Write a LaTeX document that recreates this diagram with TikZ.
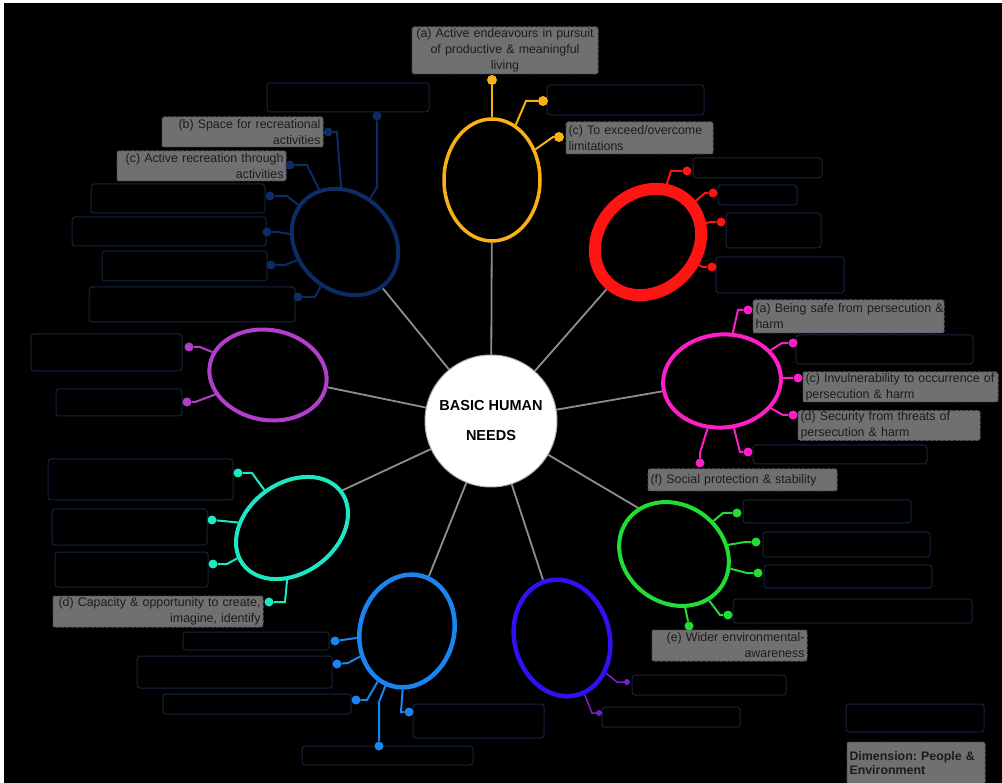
\documentclass[tikz,border=0pt]{standalone}
\usepackage{fontspec}
\setmainfont{Liberation Sans}
\usetikzlibrary{shapes.geometric,backgrounds}

\definecolor{cYel}{HTML}{F9B115}
\definecolor{cRed}{HTML}{FF1414}
\definecolor{cPink}{HTML}{FF1EC8}
\definecolor{cGreen}{HTML}{22DD33}
\definecolor{cIndigo}{HTML}{2E12F2}
\definecolor{cViolet}{HTML}{7A1FD0}
\definecolor{cSky}{HTML}{1A84F0}
\definecolor{cCyan}{HTML}{1EE8C4}
\definecolor{cPurple}{HTML}{B040CC}
\definecolor{cNavy}{HTML}{0C2C66}
\definecolor{cSlot}{HTML}{13263D}
\definecolor{cSpoke}{HTML}{8E8E8E}
\definecolor{cLblFill}{HTML}{707070}
\definecolor{cLblEdge}{HTML}{555555}
\definecolor{cLblText}{HTML}{1C1C1C}

\begin{document}
\begin{tikzpicture}[x=1pt,y=-1pt,
  hub/.style={circle, fill=white, draw=gray!60, line width=1pt, minimum size=132pt,
    inner sep=0pt, align=center, font=\fontsize{14.5}{30}\selectfont\bfseries},
  ring/.style={ellipse, draw, inner sep=0pt, line width=4pt},
  spoke/.style={draw=cSpoke, line width=1.8pt},
  knob/.style={circle, fill=#1, inner sep=0pt, minimum size=9pt},
  smallknob/.style={circle, fill=#1, inner sep=0pt, minimum size=6pt},
  branch/.style={draw=#1, line width=2pt},
  slot/.style={draw=cSlot, line width=1pt, rounded corners=3pt, inner sep=0pt},
  lbl/.style={fill=cLblFill, draw=cLblEdge, dash pattern=on 3pt off 2pt, line width=1pt,
    rounded corners=2pt, inner xsep=2.5pt, inner ysep=1pt, text=cLblText,
    font=\fontsize{12.4}{16}\selectfont\frenchspacing},
]
\useasboundingbox (0,0) rectangle (1002,783);
\begin{scope}[on background layer]
  \fill[white] (0,0) rectangle (1002,783);
  \fill[black] (3.5,3.5) rectangle (1002,783);
\end{scope}

% hub
\node[hub] (C) at (491,421) {BASIC HUMAN\\NEEDS};

% rings
\node[ring, draw=cYel, line width=3.5pt, minimum width=96pt, minimum height=122pt] (Y) at (492,180) {};
\node[ring, draw=cRed, line width=12pt, minimum width=114pt, minimum height=98pt, rotate=45] (R) at (648,242) {};
\node[ring, draw=cPink, minimum width=118pt, minimum height=93pt, rotate=5] (P) at (722,381) {};
\node[ring, draw=cGreen, minimum width=115pt, minimum height=98pt, rotate=-35] (G) at (674,554) {};
\node[ring, draw=cIndigo, line width=4.5pt, minimum width=95pt, minimum height=118pt, rotate=15] (I) at (562,638) {};
\node[ring, draw=cSky, line width=4.5pt, minimum width=94pt, minimum height=114pt, rotate=-15] (B) at (407,631) {};
\node[ring, draw=cCyan, minimum width=122pt, minimum height=90pt, rotate=36] (Cy) at (292,528) {};
\node[ring, draw=cPurple, minimum width=118pt, minimum height=90pt, rotate=-10] (U) at (268,375) {};
\node[ring, draw=cNavy, minimum width=116pt, minimum height=96pt, rotate=-45] (N) at (345,242) {};

\coordinate (gIn) at (640,509);
\coordinate (cIn) at (341,491);

% navy group
\node[slot, minimum width=162pt, minimum height=29pt] (sNa) at (348,97.5) {};
\node[lbl, text width=156pt, minimum height=30pt, align=right] (tNb) at (242.5,132) {(b) Space for recreational\\activities};
\node[lbl, text width=164pt, minimum height=30pt, align=right] (tNc) at (201.5,166) {(c) Active recreation through\\activities};
\node[slot, minimum width=174pt, minimum height=29pt] (sNd) at (178,198.5) {};
\node[slot, minimum width=194pt, minimum height=29pt] (sNe) at (169,231.5) {};
\node[slot, minimum width=165pt, minimum height=30pt] (sNf) at (184.5,266) {};
\node[slot, minimum width=206pt, minimum height=35pt] (sNg) at (192,304.5) {};
\node[knob=cNavy] (kNa) at (377,116) {};
\node[knob=cNavy] (kNb) at (328,132) {};
\node[knob=cNavy] (kNc) at (290,165) {};
\node[knob=cNavy] (kNd) at (270,196) {};
\node[knob=cNavy] (kNe) at (267,232) {};
\node[knob=cNavy] (kNf) at (271,265) {};
\node[knob=cNavy] (kNg) at (298,297) {};

% yellow group
\node[lbl, text width=181pt, minimum height=47pt, align=center] (tYa) at (505,50.5) {(a) Active endeavours in pursuit\\of productive \& meaningful\\living};
\node[slot, minimum width=157pt, minimum height=30pt] (sYb) at (625.5,100) {};
\node[lbl, text width=142pt, minimum height=32pt, align=left] (tYc) at (639.5,138) {(c) To exceed/overcome\\limitations};
\node[knob=cYel, minimum size=10pt] (kYa) at (492,80) {};
\node[knob=cYel, minimum size=10pt] (kYb) at (543,101) {};
\node[knob=cYel, minimum size=10pt] (kYc) at (559,137) {};

% red group
\node[slot, minimum width=129pt, minimum height=20pt] (sR1) at (757.5,168) {};
\node[slot, minimum width=79pt, minimum height=20pt] (sR2) at (757.5,195) {};
\node[slot, minimum width=95pt, minimum height=35pt] (sR3) at (773.5,230.5) {};
\node[slot, minimum width=128pt, minimum height=36pt] (sR4) at (780,275) {};
\node[knob=cRed] (kR1) at (687,171) {};
\node[knob=cRed] (kR2) at (713,193) {};
\node[knob=cRed] (kR3) at (721,222) {};
\node[knob=cRed] (kR4) at (712,267) {};

% pink group
\node[lbl, text width=186pt, minimum height=33pt, align=left] (tPa) at (848.5,316.5) {\mbox{(a) Being safe from persecution \&}\\harm};
\node[slot, minimum width=177pt, minimum height=29pt] (sPb) at (884.5,349.5) {};
\node[lbl, text width=190pt, minimum height=30pt, align=left] (tPc) at (900.5,387) {\mbox{(c) Invulnerability to occurrence of}\\persecution \& harm};
\node[lbl, text width=177pt, minimum height=27pt, align=left] (tPd) at (889,425.5) {(d) Security from threats of\\persecution \& harm};
\node[slot, minimum width=174pt, minimum height=19pt] (sPe) at (840,454.5) {};
\node[lbl, text width=184pt, minimum height=22pt, align=left] (tPf) at (742.5,480) {(f) Social protection \& stability};
\node[knob=cPink] (kPa) at (748,310) {};
\node[knob=cPink] (kPb) at (793,343) {};
\node[knob=cPink] (kPc) at (798,378) {};
\node[knob=cPink] (kPd) at (793,415) {};
\node[knob=cPink] (kPe) at (748,452) {};
\node[knob=cPink] (kPf) at (700,463) {};

% green group
\node[slot, minimum width=168pt, minimum height=23pt] (sGa) at (827,511.5) {};
\node[slot, minimum width=167pt, minimum height=25pt] (sGb) at (846.5,544.5) {};
\node[slot, minimum width=168pt, minimum height=23pt] (sGc) at (848,576.5) {};
\node[slot, minimum width=239pt, minimum height=24pt] (sGd) at (852.5,611) {};
\node[lbl, text width=150pt, minimum height=31pt, align=right] (tGe) at (729.5,645.5) {(e) Wider environmental-\\awareness};
\node[knob=cGreen] (kGa) at (737,513) {};
\node[knob=cGreen] (kGb) at (756,542) {};
\node[knob=cGreen] (kGc) at (758,573) {};
\node[knob=cGreen] (kGd) at (728,615) {};
\node[knob=cGreen] (kGe) at (689,626) {};

% indigo group
\node[slot, minimum width=154pt, minimum height=20pt] (sIa) at (709,685) {};
\node[slot, minimum width=138pt, minimum height=20pt] (sIb) at (671,717) {};
\node[smallknob=cViolet] (kIa) at (627,682) {};
\node[smallknob=cViolet] (kIb) at (599,713) {};

% light blue group
\node[slot, minimum width=146pt, minimum height=18pt] (sBa) at (256,641) {};
\node[slot, minimum width=195pt, minimum height=32pt] (sBb) at (234.5,672) {};
\node[slot, minimum width=188pt, minimum height=20pt] (sBc) at (257,704) {};
\node[slot, minimum width=171pt, minimum height=19pt] (sBd) at (387.5,755.5) {};
\node[slot, minimum width=131pt, minimum height=34pt] (sBe) at (478.5,721) {};
\node[knob=cSky] (kBa) at (335,641) {};
\node[knob=cSky] (kBb) at (337,664) {};
\node[knob=cSky] (kBc) at (356,700) {};
\node[knob=cSky] (kBd) at (379,746) {};
\node[knob=cSky] (kBe) at (409,712) {};

% cyan group
\node[slot, minimum width=185pt, minimum height=41pt] (sCa) at (140.5,479.5) {};
\node[slot, minimum width=155pt, minimum height=36pt] (sCb) at (129.5,527) {};
\node[slot, minimum width=153pt, minimum height=35pt] (sCc) at (131.5,569.5) {};
\node[lbl, text width=205pt, minimum height=31pt, align=right] (tCd) at (158,611.5) {(d) Capacity \& opportunity to create,\\imagine, identify};
\node[knob=cCyan] (kCa) at (238,473) {};
\node[knob=cCyan] (kCb) at (212,520) {};
\node[knob=cCyan] (kCc) at (213,564) {};
\node[knob=cCyan] (kCd) at (269,602) {};

% purple group
\node[slot, minimum width=151pt, minimum height=37pt] (sUa) at (106.5,352.5) {};
\node[slot, minimum width=126pt, minimum height=27pt] (sUb) at (119,402.5) {};
\node[knob=cPurple] (kUa) at (189,347) {};
\node[knob=cPurple] (kUb) at (187,402) {};

% dimension tag
\node[slot, minimum width=138pt, minimum height=28pt] (sDim) at (915,718) {};
\node[lbl, text width=133pt, minimum height=42pt, align=left,
  font=\fontsize{12.4}{14.5}\selectfont\bfseries\frenchspacing] (tDim) at (916,763) {Dimension: People \&\\Environment};

% connectors
\begin{scope}[on background layer]
  \draw[spoke] (C) -- (Y);
  \draw[spoke] (C) -- (R);
  \draw[spoke] (C) -- (P);
  \draw[spoke] (C) -- (gIn);
  \draw[spoke] (C) -- (I);
  \draw[spoke] (C) -- (B);
  \draw[spoke] (C) -- (cIn);
  \draw[spoke] (C) -- (U);
  \draw[spoke] (C) -- (N);

  \draw[branch=cNavy] (kNa) -- (377,187) -- (N);
  \draw[branch=cNavy] (kNb) -- (337,132) -- (N);
  \draw[branch=cNavy] (kNc) -- (307,165) -- (N);
  \draw[branch=cNavy] (kNd) -- (287,196) -- (N);
  \draw[branch=cNavy] (kNe) -- (277,232) -- (N);
  \draw[branch=cNavy] (kNf) -- (285,265) -- (N);
  \draw[branch=cNavy] (kNg) -- (315,297) -- (N);

  \draw[branch=cYel] (kYa) -- (Y);
  \draw[branch=cYel] (kYb) -- (526,101) -- (Y);
  \draw[branch=cYel] (kYc) -- (553,137) -- (Y);

  \draw[branch=cRed] (kR1) -- (671,171) -- (R);
  \draw[branch=cRed] (kR2) -- (705,193) -- (R);
  \draw[branch=cRed] (kR3) -- (710,222) -- (R);
  \draw[branch=cRed] (kR4) -- (703,267) -- (R);

  \draw[branch=cPink] (kPa) -- (738,310) -- (P);
  \draw[branch=cPink] (kPb) -- (782,343) -- (P);
  \draw[branch=cPink] (kPc) -- (786,378) -- (P);
  \draw[branch=cPink] (kPd) -- (783,415) -- (P);
  \draw[branch=cPink] (kPe) -- (740,452) -- (P);
  \draw[branch=cPink] (kPf) -- (700,453) -- (P);

  \draw[branch=cGreen] (kGa) -- (723,513) -- (G);
  \draw[branch=cGreen] (kGb) -- (745,542) -- (G);
  \draw[branch=cGreen] (kGc) -- (747,573) -- (G);
  \draw[branch=cGreen] (kGd) -- (720,615) -- (G);
  \draw[branch=cGreen] (kGe) -- (G);

  \draw[branch=cViolet, line width=1.5pt] (kIa) -- (617,682) -- (I);
  \draw[branch=cViolet, line width=1.5pt] (kIb) -- (592,713) -- (I);

  \draw[branch=cSky] (kBa) -- (B);
  \draw[branch=cSky] (kBb) -- (348,663) -- (B);
  \draw[branch=cSky] (kBc) -- (367,700) -- (B);
  \draw[branch=cSky] (kBd) -- (379,702) -- (B);
  \draw[branch=cSky] (kBe) -- (401,712) -- (B);

  \draw[branch=cCyan] (kCa) -- (252,473) -- (Cy);
  \draw[branch=cCyan] (kCb) -- (223,521) -- (Cy);
  \draw[branch=cCyan] (kCc) -- (227,564) -- (Cy);
  \draw[branch=cCyan] (kCd) -- (285,602) -- (Cy);

  \draw[branch=cPurple] (kUa) -- (200,347) -- (U);
  \draw[branch=cPurple] (kUb) -- (195,402) -- (U);
\end{scope}
\end{tikzpicture}
\end{document}
